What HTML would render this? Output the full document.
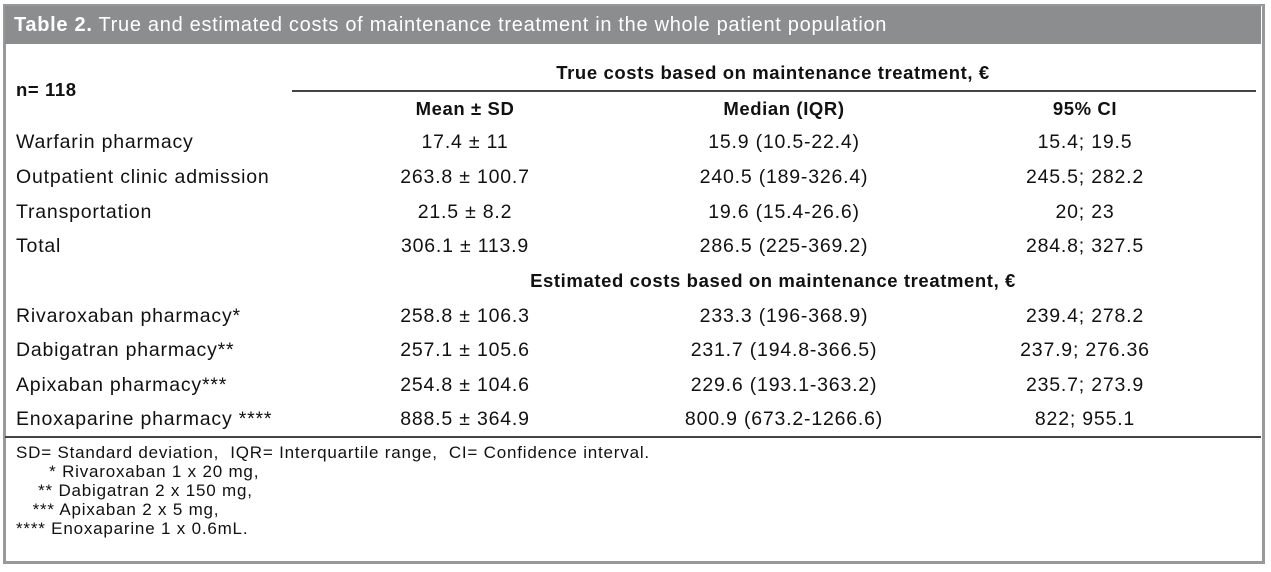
<!DOCTYPE html>
<html><head><meta charset="utf-8"><style>
body{margin:0;width:1271px;height:572px;background:#fff;position:relative;overflow:hidden;font-family:"Liberation Sans",sans-serif;color:#111}
.box{position:absolute;left:3px;top:4px;width:1256px;height:555px;border:3px solid #999;border-top-width:2px}
.hdr{position:absolute;left:5px;top:6px;width:1256px;height:38px;background:#8c8d8f;color:#fff;font-size:20px;letter-spacing:0.7px;line-height:38px;padding-left:9px;box-sizing:border-box}
.t{position:absolute;font-size:19.5px;letter-spacing:0.8px;line-height:24px;white-space:nowrap}
.c{transform:translateX(-50%)}
.b{font-weight:bold;letter-spacing:0.6px;font-size:18.5px}
.ln{position:absolute;height:2px;background:#444}
</style></head><body>
<div class="box"></div>
<div class="hdr"><b>Table 2.</b> True and estimated costs of maintenance treatment in the whole patient population</div>
<div class="t b" style="left:16px;top:78px">n= 118</div>
<div class="t b c" style="left:773px;top:61px">True costs based on maintenance treatment, €</div>
<div class="ln" style="left:292px;top:90px;width:964px;height:1.5px"></div>
<div class="t b c" style="left:465px;top:97px">Mean ± SD</div>
<div class="t b c" style="left:784px;top:97px">Median (IQR)</div>
<div class="t b c" style="left:1085px;top:97px">95% CI</div>

<div class="t" style="left:16px;top:130px">Warfarin pharmacy</div>
<div class="t c" style="left:465px;top:130px">17.4 ± 11</div>
<div class="t c" style="left:784px;top:130px">15.9 (10.5-22.4)</div>
<div class="t c" style="left:1085px;top:130px">15.4; 19.5</div>

<div class="t" style="left:16px;top:165px">Outpatient clinic admission</div>
<div class="t c" style="left:465px;top:165px">263.8 ± 100.7</div>
<div class="t c" style="left:784px;top:165px">240.5 (189-326.4)</div>
<div class="t c" style="left:1085px;top:165px">245.5; 282.2</div>

<div class="t" style="left:16px;top:200px">Transportation</div>
<div class="t c" style="left:465px;top:200px">21.5 ± 8.2</div>
<div class="t c" style="left:784px;top:200px">19.6 (15.4-26.6)</div>
<div class="t c" style="left:1085px;top:200px">20; 23</div>

<div class="t" style="left:16px;top:234px">Total</div>
<div class="t c" style="left:465px;top:234px">306.1 ± 113.9</div>
<div class="t c" style="left:784px;top:234px">286.5 (225-369.2)</div>
<div class="t c" style="left:1085px;top:234px">284.8; 327.5</div>

<div class="t b c" style="left:773px;top:269px">Estimated costs based on maintenance treatment, €</div>

<div class="t" style="left:16px;top:304px">Rivaroxaban pharmacy*</div>
<div class="t c" style="left:465px;top:304px">258.8 ± 106.3</div>
<div class="t c" style="left:784px;top:304px">233.3 (196-368.9)</div>
<div class="t c" style="left:1085px;top:304px">239.4; 278.2</div>

<div class="t" style="left:16px;top:338px">Dabigatran pharmacy**</div>
<div class="t c" style="left:465px;top:338px">257.1 ± 105.6</div>
<div class="t c" style="left:784px;top:338px">231.7 (194.8-366.5)</div>
<div class="t c" style="left:1085px;top:338px">237.9; 276.36</div>

<div class="t" style="left:16px;top:373px">Apixaban pharmacy***</div>
<div class="t c" style="left:465px;top:373px">254.8 ± 104.6</div>
<div class="t c" style="left:784px;top:373px">229.6 (193.1-363.2)</div>
<div class="t c" style="left:1085px;top:373px">235.7; 273.9</div>

<div class="t" style="left:16px;top:407px">Enoxaparine pharmacy ****</div>
<div class="t c" style="left:465px;top:407px">888.5 ± 364.9</div>
<div class="t c" style="left:784px;top:407px">800.9 (673.2-1266.6)</div>
<div class="t c" style="left:1085px;top:407px">822; 955.1</div>

<div class="ln" style="left:5px;top:436px;width:1256px"></div>

<div class="t" style="left:16px;top:443px;font-size:17px;letter-spacing:0.8px;line-height:19px">SD= Standard deviation,&nbsp; IQR= Interquartile range,&nbsp; CI= Confidence interval.<br>
&nbsp;&nbsp;&nbsp;&nbsp;&nbsp; * Rivaroxaban 1 x 20 mg,<br>
&nbsp;&nbsp;&nbsp; ** Dabigatran 2 x 150 mg,<br>
&nbsp;&nbsp; *** Apixaban 2 x 5 mg,<br>
**** Enoxaparine 1 x 0.6mL.</div>
</body></html>
